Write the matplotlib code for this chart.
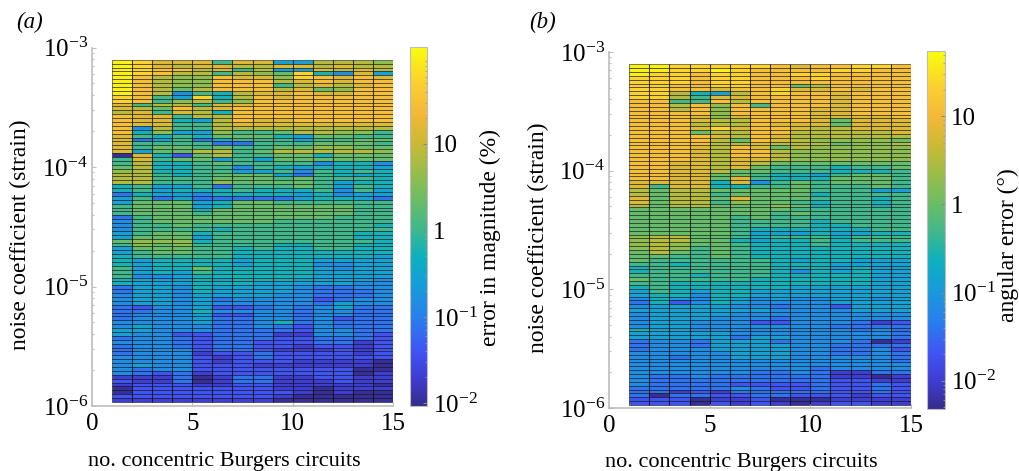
import numpy as np
import matplotlib
matplotlib.use("Agg")
import matplotlib.pyplot as plt
from matplotlib.colors import LinearSegmentedColormap, LogNorm

plt.rcParams['font.family'] = ['Liberation Serif', 'DejaVu Serif']
plt.rcParams['mathtext.fontset'] = 'custom'
plt.rcParams['mathtext.rm'] = 'Liberation Serif'
plt.rcParams['mathtext.it'] = 'Liberation Serif:italic'
plt.rcParams['mathtext.default'] = 'regular'

# ----------------------------
# Data: colour level per cell (top row first)
# 0 = bottom of the colour bar, e = top
# ----------------------------
mag_levels = [
    "edbbb7bb55aaa9", "edbabbaabbabaa", "edccab7a55baba", "edcaa7a98d64b5",
    "eca99cbb9dcbcb", "eca99cccabcbcc", "eca99ccc7ababc", "eca8acccab89cc",
    "eca476abbcbbcc", "dc75d6acbccccc", "dc79a79ccccccc", "b7aa7bbccccccc",
    "ba8cabcccccccc", "ab7ba6cccccccc", "cbb7aacccccccc", "cbb65acbbccccc",
    "cbb77abbbbbbbb", "c4a77aaaaaaaaa", "c69559778aa997", "b7676888658877",
    "b3573677757788", "b7777337778887", "b7887877889988", "b588aa78aaaaa9",
    "0b628a77886888", "7b788575888888", "7a667877774664", "8a667747656665",
    "9a667755747676", "aa767888537656", "aa777888787776", "aa777988887566",
    "67557377787576", "67566676667475", "36554666656455", "57353333356653",
    "58885688777777", "78885688888877", "78886888888877", "78887888888877",
    "37888888888777", "47888888777777", "47787777777776", "47777677777777",
    "57886777777766", "58885777777766", "89996777777776", "79897777667766",
    "58887767667766", "57887766666666", "67777766666665", "65666656665555",
    "65666656664455", "75668666665455", "75657666665555", "74456666665555",
    "65556566655554", "65556665555544", "35546555543344", "35546555543334",
    "45545555443334", "45545344442344", "45545444443544", "32445223434533",
    "33446444434433", "34445224434433", "34445334434233", "44445334634333",
    "45444334324333", "55444333324433", "54422333114432", "34432333223332",
    "44432332223312", "34432332212212", "34442332111212", "34441223222212",
    "44442123222222", "44442122211110", "45442221111110", "43442222222200",
    "43231222222201", "11130133112211", "21130133111211", "12221122111110",
    "02222222110111", "02222222210100", "22222222100000", "11111111000000",
]

ang_levels = [
    "eedddddcbccddc", "eeddedccccddcc", "eddcddccddcccc", "dddcddcccdcccc",
    "dddcddcccccccc", "ddccddcc8acccc", "ddccbccdbbcbcc", "dda65acdccbccc",
    "dda7bbccccbccc", "cc77caccccbccc", "ccac9c7cccbccc", "ccac9ccccbbccc",
    "cccc9ccccbbccc", "cccb9bcccbbbbc", "cccbaacccb8bbb", "cccaaacbbb8bbb",
    "cccbdbccbaabbb", "ccc8aaccaaaaab", "ccccbacbaaaaaa", "cccca8cba99998",
    "ccccaabaaa899a", "cccbacb8a99999", "cccbacca999999", "cccbacca999999",
    "cccbabba999999", "ccbbaba8888888", "ccbbab87776778", "ccbba887776667",
    "ccbb8876657887", "ccbb8b76668887", "bbbb6b47878887", "b7bb6677877787",
    "a8aa8888877755", "a8aa7888867777", "b8aa8b88877767", "b8aa7988767767",
    "a8aa8889867767", "88888888777777", "88888887877777", "88888787777777",
    "88888777767777", "88888777766777", "88888766666677", "88888755565566",
    "9aa88767776777", "9aa88656676777", "9a988766676666", "9a978766666666",
    "8a878766666666", "88778766666666", "87777776566555", "77677776665555",
    "67777776665655", "67777776465655", "77767776666655", "87777766666655",
    "77666666666655", "67666666555555", "57656655555555", "56646655555555",
    "46546545445545", "36246544445555", "45555443442555", "55555554444555",
    "45555444444444", "45554443444444", "45544422444312", "45544444443333",
    "65544444444343", "55555444444443", "55555355444443", "34435553444301",
    "34435555443333", "34445555443342", "44444555443343", "44344555444443",
    "44444444444443", "44444444444444", "44444444434444", "44444433431133",
    "43343333331101", "43333333332211", "43333222232232", "33333432232232",
    "33121333332232", "30332233222122", "22201120001111", "22202121012211",
]

x_min = 1
x_max = 15
noise_low = {"a": 1.08e-6, "b": 1.06e-6}
noise_high = {"a": 7.9e-4, "b": 7.9e-4}

x_ticks = [0, 5, 10, 15]
y_ticks = [1e-6, 1e-5, 1e-4, 1e-3]
y_ticklabels = [r'$10^{-6}$', r'$10^{-5}$', r'$10^{-4}$', r'$10^{-3}$']

mag_limits = (10 ** -2.03, 10 ** 2.12)
ang_limits = (10 ** -2.32, 10 ** 1.74)
cbar_ticks = [0.01, 0.1, 1, 10]
cbar_ticklabels = [r'$10^{-2}$', r'$10^{-1}$', '1', '10']

# MATLAB parula, sampled by eye
parula = LinearSegmentedColormap.from_list("parula", [
    (0.0, (0.2081, 0.1663, 0.5292)),
    (0.08, (0.2440, 0.2350, 0.8200)),
    (0.16, (0.2500, 0.3300, 0.9600)),
    (0.25, (0.1540, 0.5000, 0.9300)),
    (0.34, (0.0900, 0.6100, 0.8600)),
    (0.42, (0.0500, 0.6900, 0.7500)),
    (0.50, (0.2500, 0.7200, 0.5500)),
    (0.58, (0.4200, 0.7400, 0.4000)),
    (0.66, (0.6000, 0.7400, 0.2800)),
    (0.74, (0.7900, 0.7300, 0.2000)),
    (0.82, (0.9500, 0.7200, 0.2200)),
    (0.90, (0.9900, 0.8000, 0.2000)),
    (1.0, (0.9763, 0.9831, 0.0538)),
])

GREY = '#bdbdbd'
W, H = 1020, 471
fig = plt.figure(figsize=(W / 100, H / 100), dpi=100)


def box(left, top, right, bottom):
    return [left / W, 1 - bottom / H, (right - left) / W, (bottom - top) / H]


def cells(levels, limits):
    lo, hi = np.log10(limits)
    grid = np.array([[int(c, 16) for c in row] for row in levels], dtype=float)
    return 10 ** (lo + (grid + 0.3) / 14.6 * (hi - lo))


def panel(rect, crect, levels, limits, low, high, clabel, title, title_xy, xlab, ylab, clab):
    ax = fig.add_axes(rect)
    rows = np.logspace(np.log10(low), np.log10(high), len(levels) + 1)
    cols = np.arange(x_min, x_max + 1)
    # rows are listed top first
    mesh = ax.pcolormesh(cols, rows[::-1], cells(levels, limits), cmap=parula,
                         norm=LogNorm(*limits), edgecolors=(0, 0, 0, 0.5),
                         linewidth=0.7, antialiased=True)
    ax.vlines(cols[1:-1], low, high, color='black', alpha=0.35, linewidth=0.8)
    ax.set_yscale('log')
    ax.set_xlim(0, 15)
    ax.set_ylim(1e-6, 1e-3)
    ax.set_xticks(x_ticks)
    ax.set_yticks(y_ticks)
    ax.set_yticklabels(y_ticklabels)
    ax.tick_params(which='both', direction='in', color=GREY, length=3, width=0.8)
    ax.tick_params(which='major', labelsize=18)
    ax.tick_params(axis='x', pad=5)
    ax.tick_params(axis='y', pad=3)
    ax.tick_params(which='minor', length=1.5)
    ax.spines['top'].set_visible(False)
    ax.spines['right'].set_visible(False)
    ax.spines['left'].set_color(GREY)
    ax.spines['bottom'].set_color(GREY)
    ax.spines['left'].set_linewidth(1.2)
    ax.spines['bottom'].set_linewidth(1.2)
    ax.set_xlabel('no. concentric Burgers circuits', fontsize=16)
    ax.xaxis.set_label_coords(*xlab)
    ax.set_ylabel('noise coefficient (strain)', fontsize=17)
    ax.yaxis.set_label_coords(*ylab)

    cax = fig.add_axes(crect)
    cbar = fig.colorbar(mesh, cax=cax)
    cbar.solids.set_edgecolor('face')
    cbar.set_ticks(cbar_ticks)
    cbar.set_ticklabels(cbar_ticklabels)
    cbar.ax.tick_params(which='major', direction='in', color='#888888', labelsize=18, length=3, pad=4)
    cbar.ax.tick_params(which='minor', direction='in', color='#999999', length=1.5)
    cbar.outline.set_edgecolor(GREY)
    cbar.set_label(clabel, fontsize=17)
    cbar.ax.yaxis.set_label_coords(*clab)
    fig.text(title_xy[0] / W, 1 - title_xy[1] / H, title, fontsize=16.5, style='italic', va='center')


panel(box(92, 47.5, 393, 406), box(410, 47, 427, 406), mag_levels, mag_limits,
      noise_low["a"], noise_high["a"], 'error in magnitude (%)', '(a)', (16, 22),
      (0.44, -0.128), (-0.203, 0.477), (4.12, 0.468))
panel(box(609, 52, 911, 408), box(927, 51, 945, 409), ang_levels, ang_limits,
      noise_low["b"], noise_high["b"], 'angular error (\u00b0)', '(b)', (529, 22),
      (0.437, -0.126), (-0.199, 0.478), (3.94, 0.458))

fig.savefig("out.png", dpi=100)
